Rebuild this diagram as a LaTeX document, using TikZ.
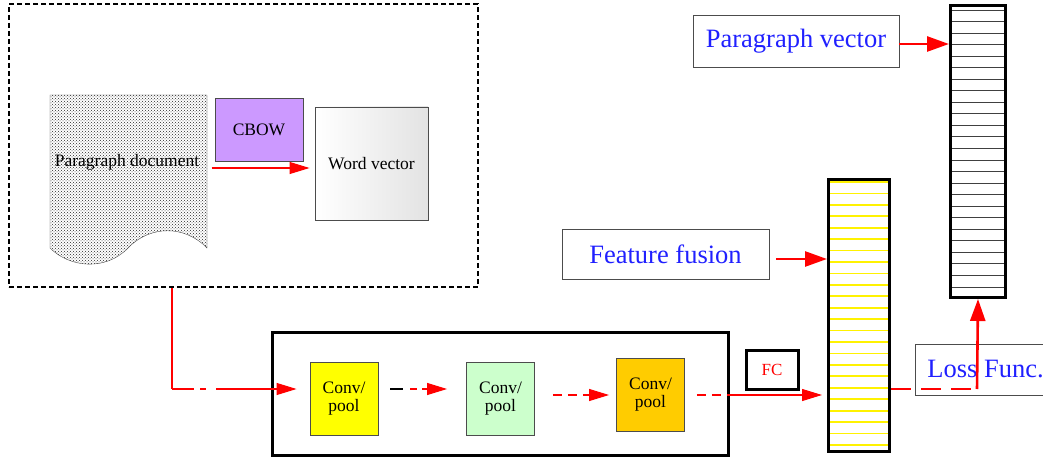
\documentclass[tikz,border=0pt]{standalone}
\usepackage{fontspec}
\setmainfont{Liberation Serif}
\usetikzlibrary{arrows.meta,patterns}

\definecolor{cbowc}{HTML}{CC99FF}
\definecolor{conva}{HTML}{FFFF00}
\definecolor{convb}{HTML}{CCFFCC}
\definecolor{convc}{HTML}{FFCC00}
\definecolor{labelblue}{HTML}{2020FF}

\tikzset{
  box/.style={draw=black!70, line width=0.9pt, inner sep=0pt, align=center,
    font=\fontsize{17.5}{18}\selectfont},
  bigbox/.style={box, text=labelblue, font=\fontsize{26.5}{28}\selectfont},
  convbox/.style={box, minimum width=68, minimum height=73},
  vecbar/.style={draw, line width=3pt, inner sep=0pt},
  thinarrow/.style={red, line width=1.1pt, -{Triangle[length=20pt,width=12pt]}},
  thickarrow/.style={red, line width=2.6pt, -{Triangle[length=22pt,width=15pt]}},
}

\begin{document}
\begin{tikzpicture}[x=1pt,y=-1pt]
  \useasboundingbox (0,0) rectangle (1043,457);

  % word2vec part
  \node[draw, line width=2.5pt, dash pattern=on 5pt off 3pt, minimum width=469,
    minimum height=283] (w2v) at (243.5,145.5) {};
  \filldraw[draw=black!70, pattern=crosshatch dots, pattern color=black!85]
    (50,95) -- (207,95) -- (207,248)
    .. controls (185,225) and (150,225) .. (128,248)
    .. controls (106,271) and (70,268) .. (50,248) -- cycle;
  \node[font=\fontsize{17.5}{18}\selectfont] (doc) at (127,162) {Paragraph document};
  \node[box, fill=cbowc, minimum width=88, minimum height=63] (cbow) at (259,129.5) {CBOW};
  \node[box, left color=white, right color=gray!22, minimum width=113,
    minimum height=113] (wv) at (371.5,163.5) {Word vector};
  \draw[thinarrow] ([xshift=9pt,yshift=-6pt]doc.east) -- ([xshift=-5pt,yshift=-4.5pt]wv.west);

  % CNN part
  \node[draw, line width=3pt, minimum width=456, minimum height=123] (cnn) at (500,393.5) {};
  \node[convbox, fill=conva] (c1) at (344,398.5) {Conv/\\pool};
  \node[convbox, fill=convb] (c2) at (500.5,398.5) {Conv/\\pool};
  \node[convbox, fill=convc] (c3) at (650.5,395) {Conv/\\pool};
  \coordinate (turn) at (172,389);
  \draw[red, line width=1.1pt] (w2v.south -| turn) -- (turn);
  \draw[thinarrow, dash pattern=on 22pt off 6pt on 6pt off 10pt on 300pt]
    (turn) -- ([xshift=-13pt]c1.west |- turn);
  \draw[line width=1.2pt] ([xshift=12pt,yshift=9.5pt]c1.east) -- ++(13,0);
  \draw[thinarrow, dash pattern=on 7pt off 5pt on 40pt]
    ([xshift=32pt,yshift=9.5pt]c1.east) -- ([xshift=-19pt,yshift=9.5pt]c2.west);
  \draw[thinarrow, dash pattern=on 9pt off 6pt on 9pt off 6pt on 60pt]
    ([xshift=18pt]c2.east |- c3.west) -- ([xshift=-7pt]c3.west);
  \draw[red, line width=1.1pt, dash pattern=on 9pt off 6pt]
    ([xshift=12pt]c3.east) -- (cnn.east |- c3.east);
  \node[vecbar, text=red, minimum width=52, minimum height=39,
    font=\fontsize{17}{18}\selectfont] (fc) at (772,369.5) {FC};

  % fused vector
  \node[vecbar, minimum width=61, minimum height=272] (fuse) at (859,315.5) {};
  \foreach \i in {0,...,23}
    \draw[yellow, line width=1.8pt] (830,{182+11.43*\i}) -- (888,{182+11.43*\i});
  \draw[thinarrow] (cnn.east |- c3.east) -- ([xshift=-5pt]fuse.west |- c3.east);

  % paragraph vector
  \node[vecbar, minimum width=55, minimum height=292] (pvec) at (978,151.5) {};
  \foreach \i in {0,...,24}
    \draw[black!75, line width=0.9pt] (952,{10+11.54*\i}) -- (1004,{10+11.54*\i});

  \node[bigbox, minimum width=206, minimum height=52] (pvbox) at (796,41) {Paragraph vector};
  \node[bigbox, minimum width=207, minimum height=50] (ffbox) at (665.5,254) {Feature fusion};
  \node[bigbox, anchor=west, minimum height=51, inner xsep=12pt] (loss) at (915,369.5) {Loss Func.};
  \coordinate (pva) at ([yshift=-3pt]pvbox.east);
  \draw[thickarrow] (pva) -- (pvec.west |- pva);
  \coordinate (ffa) at ([xshift=7pt,yshift=-5pt]ffbox.east);
  \draw[thickarrow] (ffa) -- (fuse.west |- ffa);
  \coordinate (lc) at (977,389);
  \draw[red, line width=2.6pt, dash pattern=on 20pt off 10pt] (fuse.east |- lc) -- (lc);
  \draw[thickarrow] (lc) -- (pvec.south);
\end{tikzpicture}
\end{document}
